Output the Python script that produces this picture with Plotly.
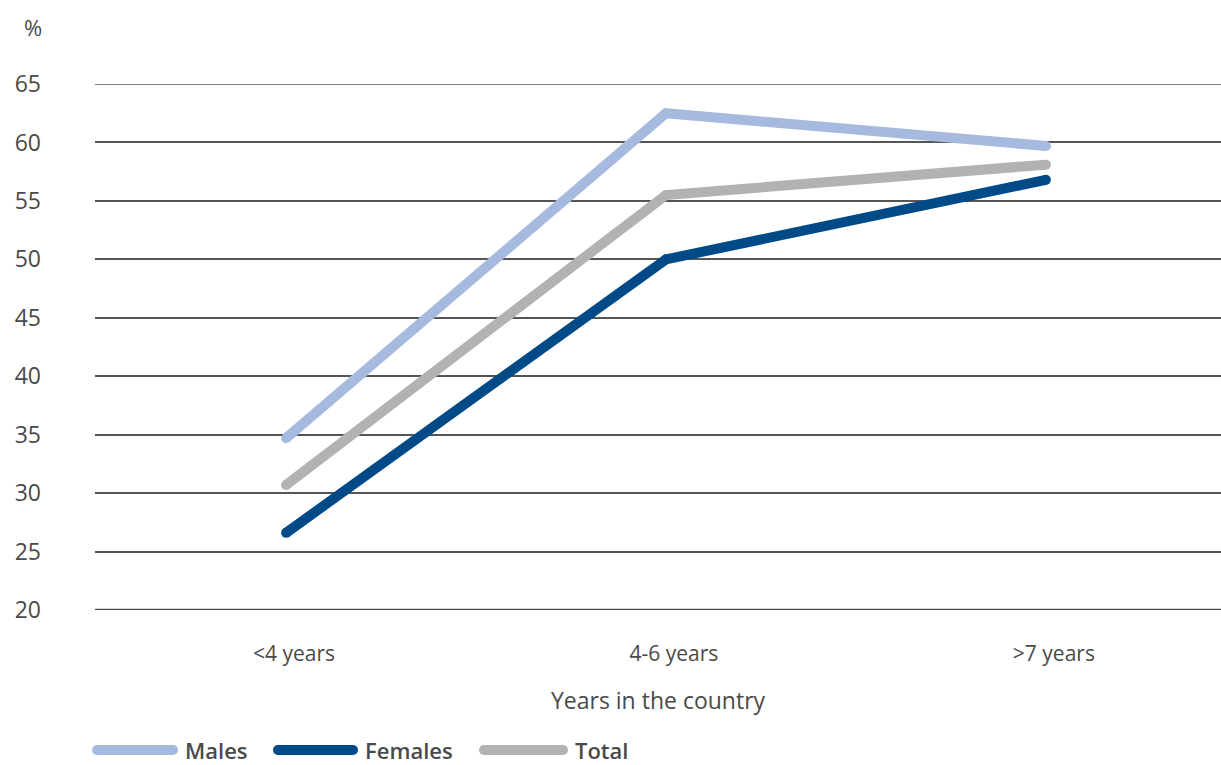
import plotly.graph_objects as go

categories = ["<4 years", "4-6 years", ">7 years"]
males = [34.7, 62.5, 59.7]
females = [26.6, 50.0, 56.8]
total = [30.7, 55.5, 58.1]
series_names = ["Males", "Females", "Total"]
series_colors = ["#A6BAE0", "#004B87", "#B2B2B2"]
y_ticks = [20, 25, 30, 35, 40, 45, 50, 55, 60, 65]

FONT = "'Open Sans', 'Noto Sans', sans-serif"
TXT = "#4a4a4a"

# plot-area geometry (pixels) used to place the custom legend
L, T, W, H = 95, 84, 1126, 526

fig = go.Figure()
for name, vals, col in zip(series_names, [males, females, total], series_colors):
    fig.add_trace(go.Scatter(
        x=categories, y=vals, name=name, mode="lines+markers",
        line=dict(color=col, width=10),
        marker=dict(color=col, size=10, line=dict(width=0)),
        showlegend=False, hoverinfo="x+y+name",
    ))

# custom legend with long swatches, as in the original
swatch_x0 = [92, 273, 479]
swatch_x1 = [178, 358, 568]
legend_y = 750
ly = -(legend_y - (T + H)) / H
for name, col, a, b in zip(series_names, series_colors, swatch_x0, swatch_x1):
    fig.add_shape(type="line", xref="paper", yref="paper",
                  x0=(a + 5 - L) / W, x1=(b - 5 - L) / W, y0=ly, y1=ly,
                  line=dict(color=col, width=10))
    for cx in (a + 5, b - 5):
        fig.add_shape(type="circle", xref="paper", yref="paper",
                      x0=(cx - 5 - L) / W, x1=(cx + 5 - L) / W,
                      y0=ly - 5 / H, y1=ly + 5 / H,
                      fillcolor=col, line=dict(width=0))
    fig.add_annotation(xref="paper", yref="paper",
                       x=(b + 5 - L) / W, y=ly,
                       xanchor="left", yanchor="middle", showarrow=False,
                       text=name, font=dict(family=FONT, size=22, color=TXT, weight=600))

fig.add_annotation(xref="paper", yref="paper", x=-(L - 33) / W, y=1 + (T - 27) / H,
                   xanchor="center", yanchor="middle", showarrow=False,
                   text="%", font=dict(family=FONT, size=22, color=TXT))

fig.update_layout(
    width=1221, height=765,
    margin=dict(l=L, r=1221 - L - W, t=T, b=765 - T - H),
    paper_bgcolor="white", plot_bgcolor="white",
    font=dict(family=FONT, color=TXT),
    xaxis=dict(
        type="category", range=[-0.503, 2.461],
        showgrid=False, zeroline=False, showline=False, ticks="",
        tickfont=dict(family=FONT, size=21, color=TXT),
        ticklabelstandoff=29, ticklabelshift=8,
        title=dict(text="Years in the country", standoff=26,
                   font=dict(family=FONT, size=23, color=TXT)),
    ),
    yaxis=dict(
        range=[20, 65], tickvals=y_ticks,
        showgrid=True, gridcolor="#555555", gridwidth=1.5,
        zeroline=False, showline=False, ticks="",
        tickfont=dict(family=FONT, size=23, color=TXT),
        ticklabelstandoff=53,
    ),
)
# top gridline (at the range edge) and the darker baseline
fig.add_shape(type="line", xref="paper", yref="y", x0=0, x1=1, y0=65, y1=65,
              line=dict(color="#555555", width=1.5), layer="below")
fig.add_shape(type="line", xref="paper", yref="y", x0=0, x1=1, y0=20, y1=20,
              line=dict(color="#4d4d4d", width=2.5), layer="above")

fig.write_html("out.html", config={"displayModeBar": False},
               post_script="document.body.style.margin='0px';")
